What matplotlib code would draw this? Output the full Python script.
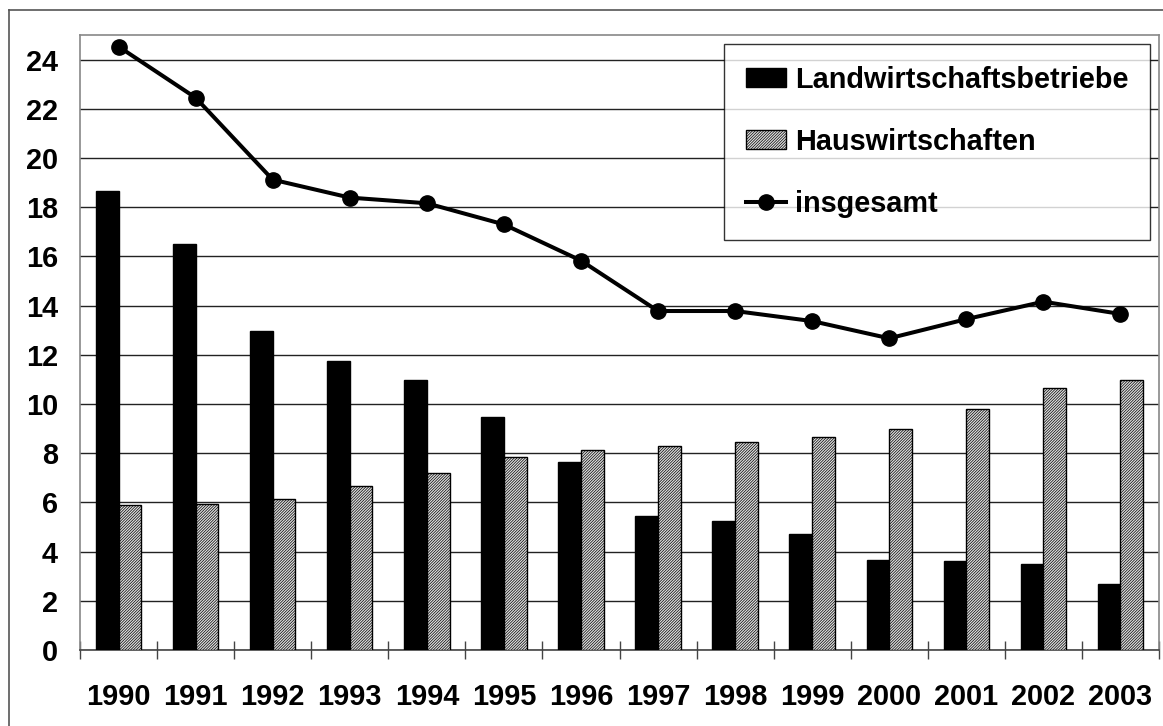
import matplotlib
matplotlib.use("Agg")
import matplotlib.pyplot as plt
import numpy as np
from matplotlib.lines import Line2D

years = ["1990", "1991", "1992", "1993", "1994", "1995", "1996",
         "1997", "1998", "1999", "2000", "2001", "2002", "2003"]
landwirtschaft = [18.64, 16.49, 12.98, 11.73, 10.97, 9.46, 7.65,
                  5.43, 5.25, 4.70, 3.65, 3.63, 3.48, 2.68]
hauswirtschaft = [5.88, 5.92, 6.14, 6.65, 7.21, 7.83, 8.13,
                  8.31, 8.47, 8.66, 8.98, 9.81, 10.66, 10.98]
insgesamt = [24.53, 22.45, 19.12, 18.39, 18.16, 17.30, 15.83,
             13.78, 13.78, 13.37, 12.67, 13.45, 14.16, 13.66]

plt.rcParams['font.family'] = ['Liberation Sans', 'DejaVu Sans']
plt.rcParams['font.weight'] = 'bold'
plt.rcParams['hatch.linewidth'] = 0.5

FS = 20.8
W, H = 1163, 726
fig = plt.figure(figsize=(W / 100, H / 100), dpi=100)
ax = fig.add_axes([80 / W, 1 - 650 / H, (1159 - 80) / W, (650 - 35) / H])

x = np.arange(len(years))
bw = 0.295
b1 = ax.bar(x - bw / 2, landwirtschaft, width=bw, color='black', edgecolor='black',
            linewidth=1.0, zorder=3, label='Landwirtschaftsbetriebe')
b2 = ax.bar(x + bw / 2, hauswirtschaft, width=bw, color='#e0e0e0', edgecolor='black',
            hatch='////////////', linewidth=1.0, zorder=3, label='Hauswirtschaften')
l1, = ax.plot(x, insgesamt, color='black', linewidth=2.9, marker='o', markersize=11,
              zorder=4, label='insgesamt')

ax.set_xlim(-0.5, len(years) - 0.5)
ax.set_ylim(0, 25)
ax.set_yticks(np.arange(0, 25, 2))
ax.yaxis.grid(True, color='#222222', linewidth=1.0)
ax.set_axisbelow(True)
ax.tick_params(axis='y', length=0, pad=16, labelsize=FS)

ax.set_xticks(np.arange(-0.5, len(years) - 0.4, 1.0))
ax.set_xticklabels([])
ax.set_xticks(x, minor=True)
ax.set_xticklabels(years, minor=True, fontsize=FS, fontweight='bold')
ax.tick_params(axis='x', which='major', direction='inout', length=13, width=1.0, color='#444444')
ax.tick_params(axis='x', which='minor', length=0, pad=24)

for s in ['left', 'top', 'right']:
    ax.spines[s].set_color('#888888')
    ax.spines[s].set_linewidth(1.2)
ax.spines['bottom'].set_color('#444444')
ax.spines['bottom'].set_linewidth(1.2)

leg = ax.legend(handles=[b1, b2, l1],
                loc='upper right', bbox_to_anchor=((1150 - 80) / 1079, (650 - 44) / 615),
                borderaxespad=0, fontsize=FS, frameon=True, fancybox=False,
                edgecolor='black', handlelength=1.4, handleheight=0.65,
                handletextpad=0.3, labelspacing=1.18, borderpad=0.75)
leg.get_frame().set_linewidth(1.0)
leg.set_zorder(10)

# outer frame (left and top edges visible)
fig.add_artist(Line2D([9 / W, 9 / W], [0, 1 - 10 / H], color='#555555', linewidth=1.2,
                      transform=fig.transFigure))
fig.add_artist(Line2D([9 / W, 1], [1 - 10 / H, 1 - 10 / H], color='#555555', linewidth=1.2,
                      transform=fig.transFigure))

fig.savefig('out.png', dpi=100)
